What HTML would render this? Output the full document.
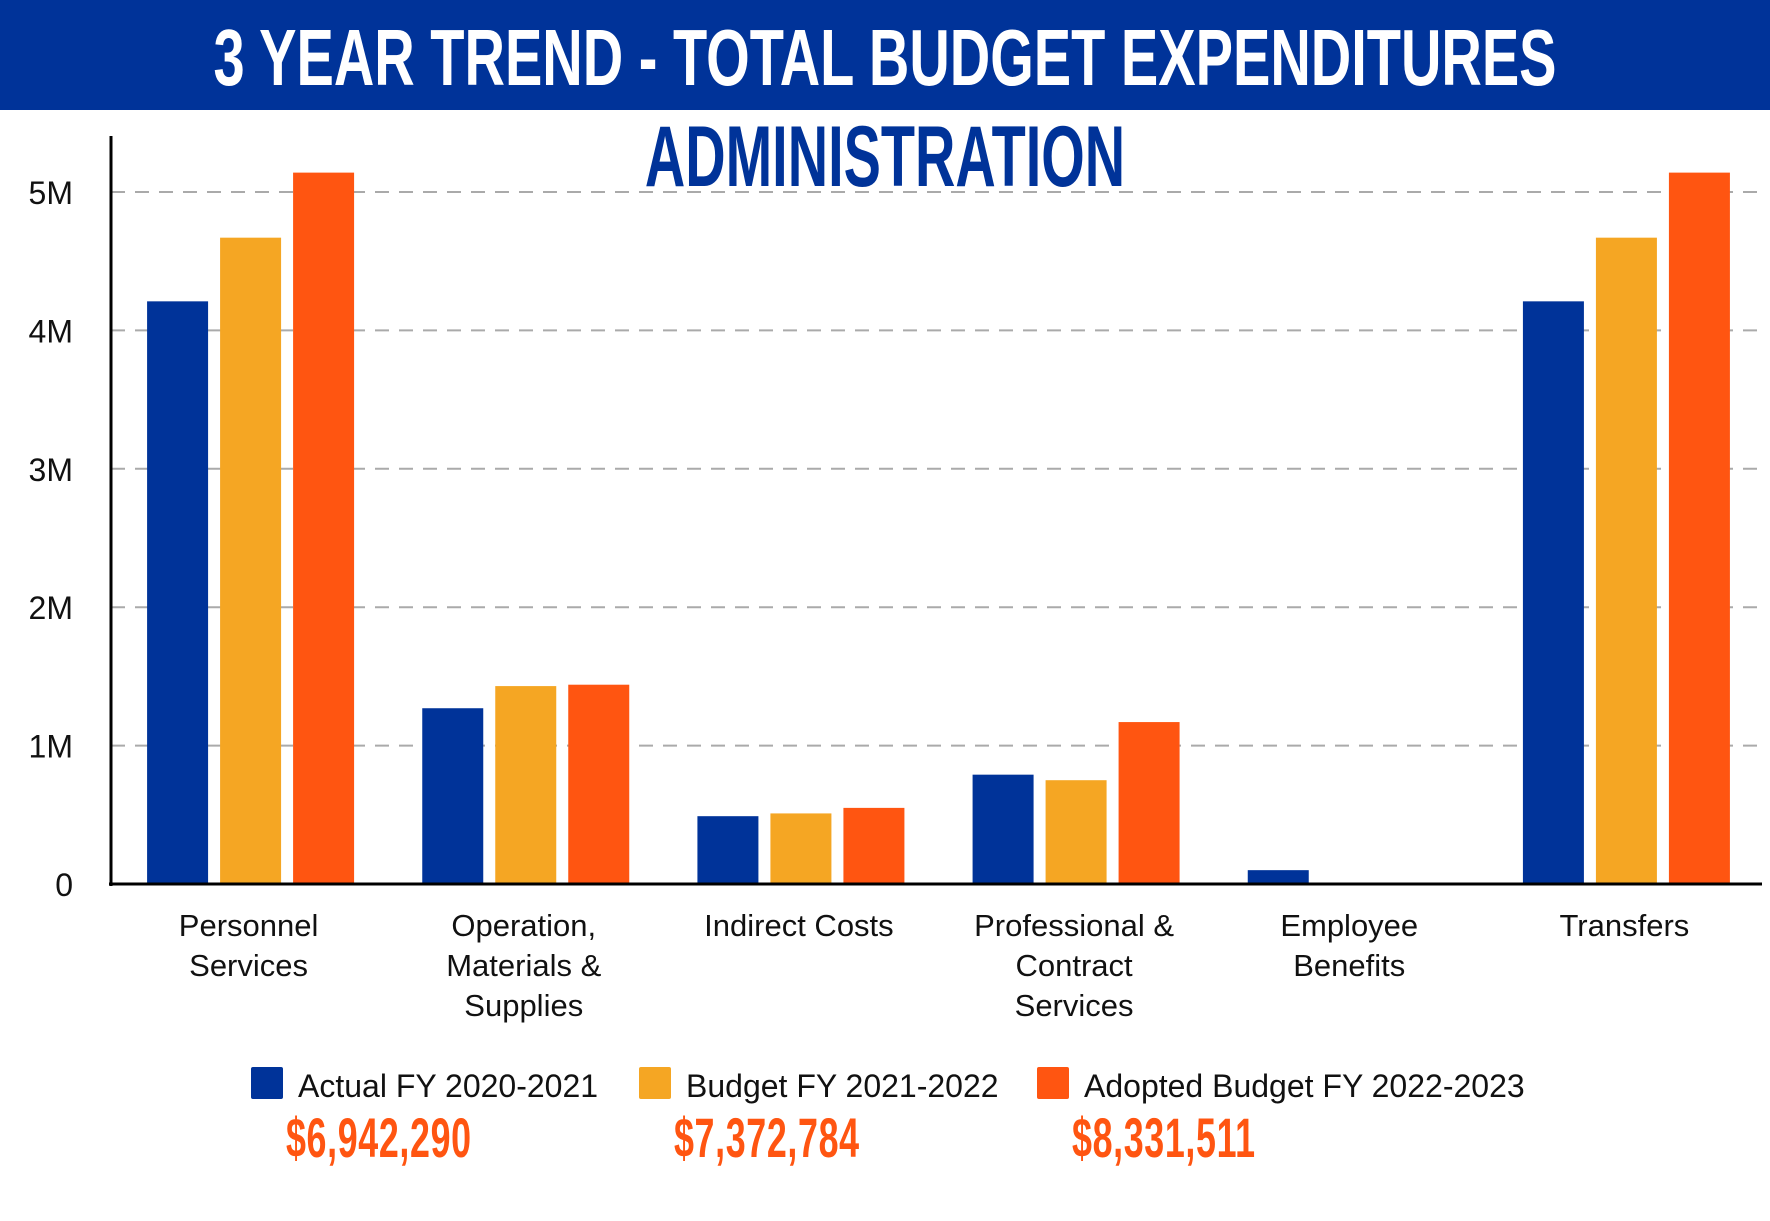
<!DOCTYPE html>
<html><head><meta charset="utf-8"><style>
html,body{margin:0;padding:0;background:#fff;}
svg{display:block;}
</style></head><body>
<svg id="chart" width="1770" height="1221" viewBox="0 0 1770 1221" xmlns="http://www.w3.org/2000/svg" font-family="Liberation Sans, sans-serif">
<rect x="0" y="0" width="1770" height="110" fill="#003399"/>
<text x="885" y="85" text-anchor="middle" fill="#fff" font-size="80" font-weight="bold" transform="translate(885 0) scale(0.7 1) translate(-885 0)">3 YEAR TREND - TOTAL BUDGET EXPENDITURES</text>
<text x="885" y="186" text-anchor="middle" fill="#003399" font-size="86" font-weight="bold" transform="translate(885 0) scale(0.65 1) translate(-885 0)">ADMINISTRATION</text>
<g id="grid"></g>
<g id="bars"></g>
<g id="axes"></g>
<g id="legend"></g>
</svg>
<script>
const categories = [["Personnel","Services"],["Operation,","Materials &","Supplies"],["Indirect Costs"],["Professional &","Contract","Services"],["Employee","Benefits"],["Transfers"]];
const actual = [4.21, 1.27, 0.49, 0.79, 0.10, 4.21];
const budget = [4.67, 1.43, 0.51, 0.75, 0, 4.67];
const adopted = [5.14, 1.44, 0.55, 1.17, 0, 5.14];
const yTicks = [0,1,2,3,4,5];
const yTickLabels = ["0","1M","2M","3M","4M","5M"];
const seriesNames = ["Actual FY 2020-2021","Budget FY 2021-2022","Adopted Budget FY 2022-2023"];
const totals = ["$6,942,290","$7,372,784","$8,331,511"];
const colors = ["#003399","#F5A623","#FF5511"];

const NS="http://www.w3.org/2000/svg";
const x0=111, x1=1762, y0=884, perM=138.4;
const y = v => y0 - v*perM;
const groupW = (x1-x0)/categories.length;
const cx = i => x0 + groupW*(i+0.5);
const barW=61, step=73;
function mk(tag, attrs, parent){const e=document.createElementNS(NS,tag);for(const k in attrs)e.setAttribute(k,attrs[k]);parent.appendChild(e);return e;}
const grid=document.getElementById('grid'), bars=document.getElementById('bars'), axes=document.getElementById('axes'), legend=document.getElementById('legend');

yTicks.forEach((t,i)=>{
  if(t>0){const l=mk('line',{x1:x0,x2:x1,y1:y(t),y2:y(t),stroke:'#aaa','stroke-width':2,'stroke-dasharray':'14 10'},grid);
  
  }
  const tx=mk('text',{x:73,y:y(t)+12,'text-anchor':'end','font-size':32,fill:'#111'},axes);
  tx.textContent=yTickLabels[i];
  
  
});
const series=[actual,budget,adopted];
categories.forEach((c,i)=>{
  series.forEach((s,j)=>{
    const v=s[i]; if(v<=0) return;
    const r=mk('rect',{x:cx(i)+(j-1)*step-barW/2+2,y:y(v),width:barW,height:y0-y(v),fill:colors[j]},bars);
    
    
  });
  c.forEach((line,k)=>{
    const t=mk('text',{x:cx(i),y:936+k*40,'text-anchor':'middle','font-size':31,fill:'#111'},axes);
    t.textContent=line;
    
    
  });
});
const ya=mk('line',{x1:x0,x2:x0,y1:136,y2:y0+2,stroke:'#000','stroke-width':3},axes);


const xa=mk('line',{x1:x0-2,x2:x1,y1:y0,y2:y0,stroke:'#000','stroke-width':3},axes);



const lx=[251,639,1037];
seriesNames.forEach((n,j)=>{
  const r=mk('rect',{x:lx[j],y:1067,width:32,height:32,rx:2,fill:colors[j]},legend);
  
  
  const t=mk('text',{x:lx[j]+47,y:1097,'font-size':32,fill:'#111'},legend);
  t.textContent=n;
  
  
  const ax=lx[j]+35;
  const a=mk('text',{x:ax,y:1157,'font-size':56,'font-weight':'bold','letter-spacing':1,fill:'#FF5511',transform:`translate(${ax} 0) scale(0.64 1) translate(${-ax} 0)`},legend);
  a.textContent=totals[j];
  
  
});
</script>
</body></html>
